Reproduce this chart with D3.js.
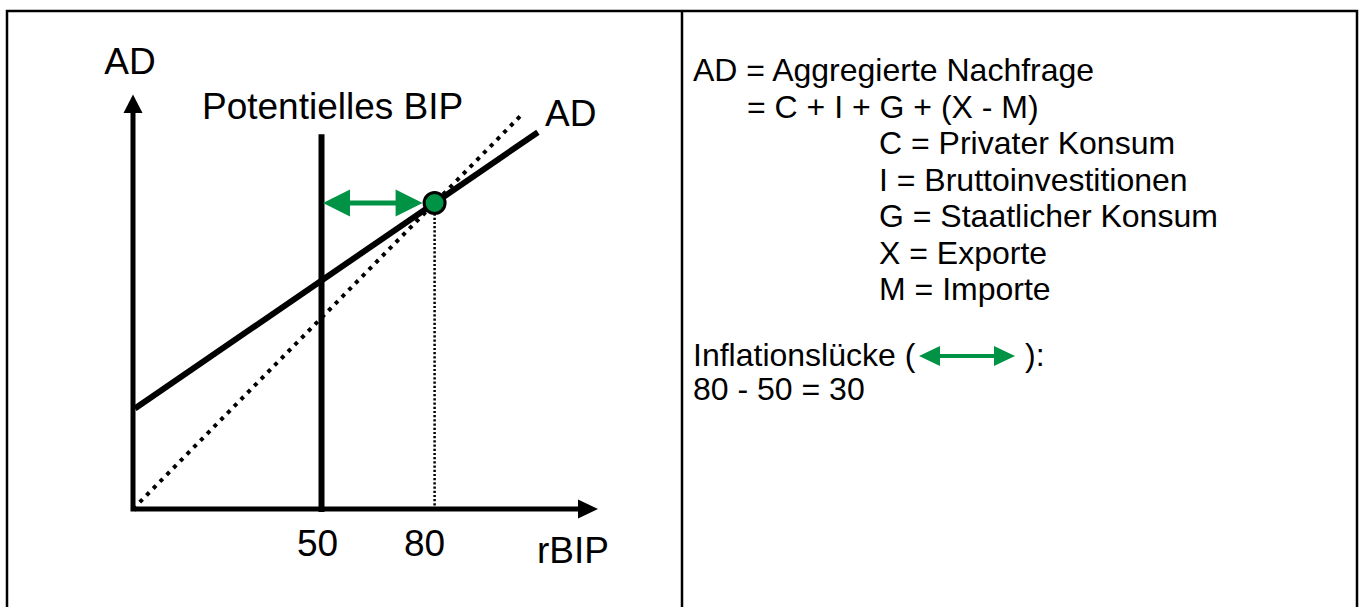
<!DOCTYPE html>
<meta charset="utf-8">
<title>AD - Inflationslücke</title>
<style>
    body {
        margin: 0;
        background: #fff;
    }

    text {
        font-family: "Liberation Sans", Arial, sans-serif;
        fill: #000;
    }
</style>
<body>
<script src="https://cdn.jsdelivr.net/npm/d3@7/dist/d3.min.js"></script>
<script>
    // Chart values (economic units, not pixels).
    var xTicks = [50, 80];
    var potentialGDP = 50;
    var equilibrium = {x: 80, y: 80};
    var adLine = [{x: 0.5, y: 26.3}, {x: 107.4, y: 98.5}];
    var diagonal = [{x: 0, y: 0}, {x: 103.6, y: 103.6}];
    var potentialTop = 98;
    var axisTop = 103.5;

    var legendLines = [
        "AD = Aggregierte Nachfrage",
        "= C + I + G + (X - M)",
        "C = Privater Konsum",
        "I = Bruttoinvestitionen",
        "G = Staatlicher Konsum",
        "X = Exporte",
        "M = Importe",
        "Inflationslücke (",
        "80 - 50 = 30"
    ];
    var legendIndent = [0, 1, 2, 2, 2, 2, 2, 0, 0];
    var legendBaseline = [81, 117.5, 154, 190.5, 227, 263.5, 300, 366, 400];

    var W = 1362, H = 607;
    var green = "#009245";

    var svg = d3.select("body").append("svg")
        .attr("width", W)
        .attr("height", H);

    // frame
    svg.append("rect")
        .attr("x", 7).attr("y", 11)
        .attr("width", 1350).attr("height", 640)
        .attr("fill", "none")
        .attr("stroke", "#000")
        .attr("stroke-width", 2.5);

    svg.append("line")
        .attr("x1", 682).attr("x2", 682)
        .attr("y1", 11).attr("y2", H)
        .attr("stroke", "#000")
        .attr("stroke-width", 2.5);

    var x = d3.scaleLinear().domain([0, 100]).range([133, 510]);
    var y = d3.scaleLinear().domain([0, 100]).range([509, 126.5]);

    var line = d3.line()
        .x(function (d) { return x(d.x); })
        .y(function (d) { return y(d.y); });

    function doubleArrow(g, x1, x2, yc, hl, hh, s) {
        var p = d3.path();
        p.moveTo(x1, yc);
        p.lineTo(x1 + hl, yc - hh);
        p.lineTo(x1 + hl, yc - s / 2);
        p.lineTo(x2 - hl, yc - s / 2);
        p.lineTo(x2 - hl, yc - hh);
        p.lineTo(x2, yc);
        p.lineTo(x2 - hl, yc + hh);
        p.lineTo(x2 - hl, yc + s / 2);
        p.lineTo(x1 + hl, yc + s / 2);
        p.lineTo(x1 + hl, yc + hh);
        p.closePath();
        g.append("path").attr("d", p.toString()).attr("fill", green);
    }

    var chart = svg.append("g");

    // axes
    chart.append("line")
        .attr("x1", x(0)).attr("x2", x(0))
        .attr("y1", y(0) + 2.5).attr("y2", y(axisTop) - 1)
        .attr("stroke", "#000").attr("stroke-width", 5);
    chart.append("path")
        .attr("d", "M" + x(0) + "," + (y(axisTop) - 18.5) +
            "L" + (x(0) + 9.5) + "," + y(axisTop) +
            "L" + (x(0) - 9.5) + "," + y(axisTop) + "Z")
        .attr("fill", "#000");

    chart.append("line")
        .attr("x1", x(0) + 2).attr("x2", 579)
        .attr("y1", y(0)).attr("y2", y(0))
        .attr("stroke", "#000").attr("stroke-width", 5);
    chart.append("path")
        .attr("d", "M598," + y(0) + "L578," + (y(0) - 9.5) + "L578," + (y(0) + 9.5) + "Z")
        .attr("fill", "#000");

    // 45 degree line
    chart.append("path")
        .datum(diagonal)
        .attr("d", line)
        .attr("fill", "none")
        .attr("stroke", "#000")
        .attr("stroke-width", 4)
        .attr("stroke-dasharray", "4,5.6");

    // potential GDP
    chart.append("line")
        .attr("x1", x(potentialGDP)).attr("x2", x(potentialGDP))
        .attr("y1", y(potentialTop)).attr("y2", y(0) + 3)
        .attr("stroke", "#000").attr("stroke-width", 6);

    // AD curve
    chart.append("path")
        .datum(adLine)
        .attr("d", line)
        .attr("fill", "none")
        .attr("stroke", "#000")
        .attr("stroke-width", 6);

    // drop line from equilibrium
    var r = 10.5;
    chart.append("line")
        .attr("x1", x(equilibrium.x)).attr("x2", x(equilibrium.x))
        .attr("y1", y(equilibrium.y) + r).attr("y2", y(0) - 3)
        .attr("stroke", "#000").attr("stroke-width", 2.5)
        .attr("stroke-dasharray", "2.2,2");

    // inflation gap arrow
    doubleArrow(chart, x(potentialGDP) + 1.5, x(equilibrium.x) - r - 1.5, y(equilibrium.y), 27, 13.5, 5);

    chart.append("circle")
        .attr("cx", x(equilibrium.x))
        .attr("cy", y(equilibrium.y))
        .attr("r", r)
        .attr("fill", green)
        .attr("stroke", "#000")
        .attr("stroke-width", 3);

    // tick labels
    var tickShift = {50: -4, 80: -10};
    chart.selectAll(".tick-label")
        .data(xTicks)
        .enter()
        .append("text")
        .attr("class", "tick-label")
        .attr("x", function (d) { return x(d) + tickShift[d]; })
        .attr("y", 556)
        .attr("text-anchor", "middle")
        .style("font-size", "37px")
        .text(function (d) { return d; });

    chart.append("text").attr("x", 130).attr("y", 74)
        .attr("text-anchor", "middle").style("font-size", "37px").text("AD");
    chart.append("text").attr("x", 202).attr("y", 119)
        .style("font-size", "37px").text("Potentielles BIP");
    chart.append("text").attr("x", 545).attr("y", 126)
        .style("font-size", "37px").text("AD");
    chart.append("text").attr("x", 537).attr("y", 563)
        .style("font-size", "37px").text("rBIP");

    // legend text
    var indentX = [693, 747, 879];
    var legend = svg.append("g");
    legend.selectAll("text")
        .data(legendLines)
        .enter()
        .append("text")
        .attr("x", function (d, i) { return indentX[legendIndent[i]]; })
        .attr("y", function (d, i) { return legendBaseline[i]; })
        .style("font-size", "32px")
        .text(function (d) { return d; });

    var yInfl = legendBaseline[7];
    doubleArrow(legend, 919, 1015, yInfl - 10, 21, 10, 4);
    legend.append("text")
        .attr("x", 1025).attr("y", yInfl)
        .style("font-size", "32px")
        .text("):");
</script>
</body>
